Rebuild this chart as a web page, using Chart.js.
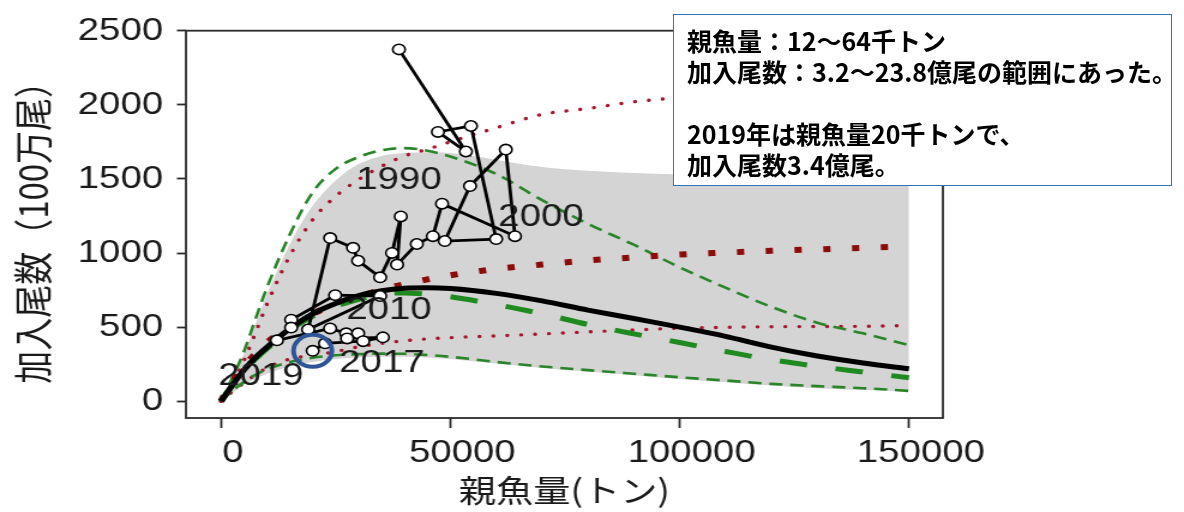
<!DOCTYPE html>
<html>
<head>
<meta charset="utf-8">
<script src="https://cdn.jsdelivr.net/npm/chart.js@4.4.1/dist/chart.umd.min.js"></script>
<style>
  html, body { margin: 0; padding: 0; background: #fff; width: 1184px; height: 512px; overflow: hidden; }
  #wrap { position: relative; width: 1184px; height: 512px; }
  /* the plot is drawn on a narrower canvas and widened, giving the broad lettering and oval markers */
  #c { position: absolute; left: 0; top: 0; transform-origin: 0 0; transform: scaleX(1.19959); }
  #note {
    position: absolute; left: 673px; top: 14px; width: 499px; height: 172px;
    box-sizing: border-box; border: 1.5px solid #2e75b6; background: #fff;
    padding: 10px 0 0 13px; white-space: nowrap; color: #000;
    font: 700 25px/31px "Noto Sans CJK JP", sans-serif;
  }
</style>
</head>
<body>
<div id="wrap">
  <canvas id="c" width="987" height="512"></canvas>
  <div id="note">親魚量：12～64千トン<br>加入尾数：3.2～23.8億尾の範囲にあった。<br><br>2019年は親魚量20千トンで、<br>加入尾数3.4億尾。</div>
</div>
<script>
// Observed stock–recruitment pairs (spawning stock biomass in t, recruits in millions)
const years = [1987, 1988, 1989, 1990, 1991, 1992, 1993, 1994, 1995, 1996, 1997,
               1998, 1999, 2000, 2001, 2002, 2003, 2004, 2005, 2006, 2007, 2008,
               2009, 2010, 2011, 2012, 2013, 2014, 2015, 2016, 2017, 2018, 2019];
const ssb = [38800, 53400, 47300, 54500, 60000, 48800, 54300, 62100, 64100, 48200, 46200,
             42700, 38400, 39200, 37300, 34700, 29900, 28800, 23800, 19000, 34700, 24900,
             15300, 15300, 12200, 23800, 27300, 29900, 27500, 35300, 31000, 22700, 20000];
const recruits = [2374, 1685, 1817, 1857, 1094, 1081, 1452, 1698, 1114, 1333, 1114,
                  1061, 922, 1247, 1001, 836, 948, 1035, 1101, 484, 710, 716,
                  550, 497, 411, 491, 458, 458, 424, 431, 405, 391, 340];

// Fitted relationships and their bounds, read along a common SSB grid
const ssbGrid = [0, 2500, 5000, 7500, 10000, 15000, 20000, 25000, 30000, 35000, 40000, 45000,
                 50000, 60000, 70000, 80000, 90000, 100000, 110000, 120000, 130000, 140000, 150000];
const rickerFit  = [0, 110, 210, 295, 365, 490, 590, 660, 712, 745, 762, 765, 760, 728, 677, 615, 558, 500, 438, 365, 305, 258, 219];
const bhFit      = [0, 130, 235, 320, 395, 505, 590, 655, 705, 752, 789, 822, 850, 892, 922, 950, 970, 990, 1003, 1015, 1025, 1035, 1045];
const rickerAlt  = [0, 105, 200, 285, 355, 480, 575, 640, 688, 722, 731, 722, 705, 652, 590, 518, 455, 396, 336, 280, 236, 197, 158];
const upperGreen = [0, 160, 335, 553, 765, 1125, 1410, 1568, 1648, 1693, 1708, 1690, 1651, 1533, 1357, 1197, 1056, 904, 766, 637, 530, 458, 378];
const lowerGreen = [0, 70, 130, 178, 215, 265, 293, 310, 318, 321, 320, 312, 300, 265, 235, 210, 186, 162, 140, 117, 102, 88, 70];
const upperRed   = [0, 113, 274, 460, 653, 980, 1225, 1383, 1496, 1585, 1655, 1700, 1750, 1845, 1935, 1975, 2020, 2050, 2080, 2105, 2130, 2150, 2170];
const lowerRed   = [0, 65, 125, 178, 225, 285, 310, 335, 367, 390, 408, 421, 429, 441, 454, 468, 481, 493, 499, 503, 504, 506, 511];
const bandUpper  = [0, 150, 320, 520, 720, 1060, 1320, 1490, 1600, 1655, 1675, 1680, 1675, 1630, 1580, 1555, 1540, 1530, 1527, 1525, 1523, 1521, 1520];
const bandLower  = [0, 55, 110, 150, 185, 235, 265, 285, 295, 300, 300, 295, 285, 255, 225, 200, 176, 150, 128, 106, 88, 76, 66];

// Year tags written beside the trajectory (anchored in data units)
const yearTagText = ['1990', '2000', '2010', '2017', '2019'];
const yearTagSsb  = [38810, 69760, 36630, 35100, 8720];
const yearTagRec  = [1492, 1240, 617, 259, 166];

// Axis ticks
const xTicks = [0, 50000, 100000, 150000];
const yTicks = [0, 500, 1000, 1500, 2000, 2500];

const pts = (xs, ys) => xs.map((x, i) => ({ x: x, y: ys[i] }));
const last = years.length - 1;

function curve(values, color, width, dash, extra) {
  return Object.assign({
    data: pts(ssbGrid, values), showLine: true, borderColor: color, borderWidth: width,
    borderDash: dash, pointRadius: 0, cubicInterpolationMode: 'monotone', fill: false
  }, extra || {});
}

const framePlugin = {
  id: 'frame',
  afterDraw(chart) {
    const { ctx, chartArea: a } = chart;
    ctx.save();
    ctx.strokeStyle = '#2b2b2b';
    ctx.lineWidth = 1.8;
    ctx.strokeRect(a.left, a.top, a.right - a.left, a.bottom - a.top);
    ctx.restore();
  }
};

const yearTagPlugin = {
  id: 'yearTags',
  afterDatasetsDraw(chart) {
    const { ctx, scales } = chart;
    ctx.save();
    ctx.font = '32px "Liberation Sans", Arial, sans-serif';
    ctx.fillStyle = '#1a1a1a';
    ctx.textAlign = 'center';
    ctx.textBaseline = 'middle';
    yearTagText.forEach((t, i) => {
      ctx.fillText(t, scales.x.getPixelForValue(yearTagSsb[i]), scales.y.getPixelForValue(yearTagRec[i]));
    });
    ctx.restore();
  }
};

const tickFont = { family: '"Liberation Sans", Arial, sans-serif', size: 32 };

new Chart(document.getElementById('c'), {
  type: 'scatter',
  data: {
    datasets: [
      { // trajectory of observations
        data: pts(ssb, recruits), showLine: true, borderColor: '#000', borderWidth: 2.8,
        pointRadius: 5.2, pointBackgroundColor: '#fff', pointBorderColor: '#000', pointBorderWidth: 1.6,
        tension: 0, order: 1
      },
      { // latest year highlighted
        data: [{ x: ssb[last], y: recruits[last] }], showLine: false,
        pointRadius: 16, pointBorderWidth: 4, pointBorderColor: '#2f5597',
        pointBackgroundColor: 'rgba(0,0,0,0)', order: 0
      },
      curve(rickerFit, '#000', 5, [], { order: 2 }),
      curve(rickerAlt, '#1f8a1f', 5, [23, 24], { order: 3 }),
      curve(bhFit, '#8b0a0a', 6, [6, 18], { order: 3 }),
      curve(upperGreen, '#2a852a', 2.6, [11, 6.5], { order: 4 }),
      curve(lowerGreen, '#2a852a', 2.6, [11, 6.5], { order: 4 }),
      curve(upperRed, '#a3162e', 3.4, [0.1, 11.5], { order: 4, borderCapStyle: 'round' }),
      curve(lowerRed, '#a3162e', 3.4, [0.1, 11.5], { order: 4, borderCapStyle: 'round' }),
      curve(bandUpper, 'rgba(0,0,0,0)', 0, [], { order: 20, fill: '+1', backgroundColor: '#d4d4d4' }),
      curve(bandLower, 'rgba(0,0,0,0)', 0, [], { order: 21 })
    ]
  },
  options: {
    responsive: false,
    devicePixelRatio: 1,
    animation: false,
    layout: { padding: { left: 0, right: 201, top: 24, bottom: 0 } },
    plugins: { legend: { display: false }, tooltip: { enabled: false } },
    scales: {
      x: {
        type: 'linear', min: -7640, max: 157400,
        afterBuildTicks: (s) => { s.ticks = xTicks.map(v => ({ value: v })); },
        afterFit: (s) => { s.height = 94; },
        border: { display: false },
        grid: { drawOnChartArea: false, drawTicks: true, tickLength: 10, tickWidth: 1.8, tickColor: '#2b2b2b' },
        ticks: { font: tickFont, color: '#1a1a1a', padding: 6, labelOffset: 10, maxRotation: 0, autoSkip: false,
                 callback: (v) => String(v) },
        title: { display: true, text: '親魚量(トン)', color: '#1a1a1a',
                 font: { family: '"Noto Sans CJK JP", sans-serif', size: 31 }, padding: { top: 0, bottom: 3 } }
      },
      y: {
        type: 'linear', min: -113, max: 2500,
        afterBuildTicks: (s) => { s.ticks = yTicks.map(v => ({ value: v })); },
        afterFit: (s) => { s.width = 155; },
        border: { display: false },
        grid: { drawOnChartArea: false, drawTicks: true, tickLength: 7.5, tickWidth: 1.8, tickColor: '#2b2b2b' },
        ticks: { font: tickFont, color: '#1a1a1a', padding: 11.5, autoSkip: false, callback: (v) => String(v) },
        title: { display: true, text: '加入尾数（100万尾）', color: '#1a1a1a',
                 font: { family: '"Noto Sans CJK JP", sans-serif', size: 33 }, padding: { top: 7.7, bottom: 0 } }
      }
    }
  },
  plugins: [framePlugin, yearTagPlugin]
});
</script>
</body>
</html>
